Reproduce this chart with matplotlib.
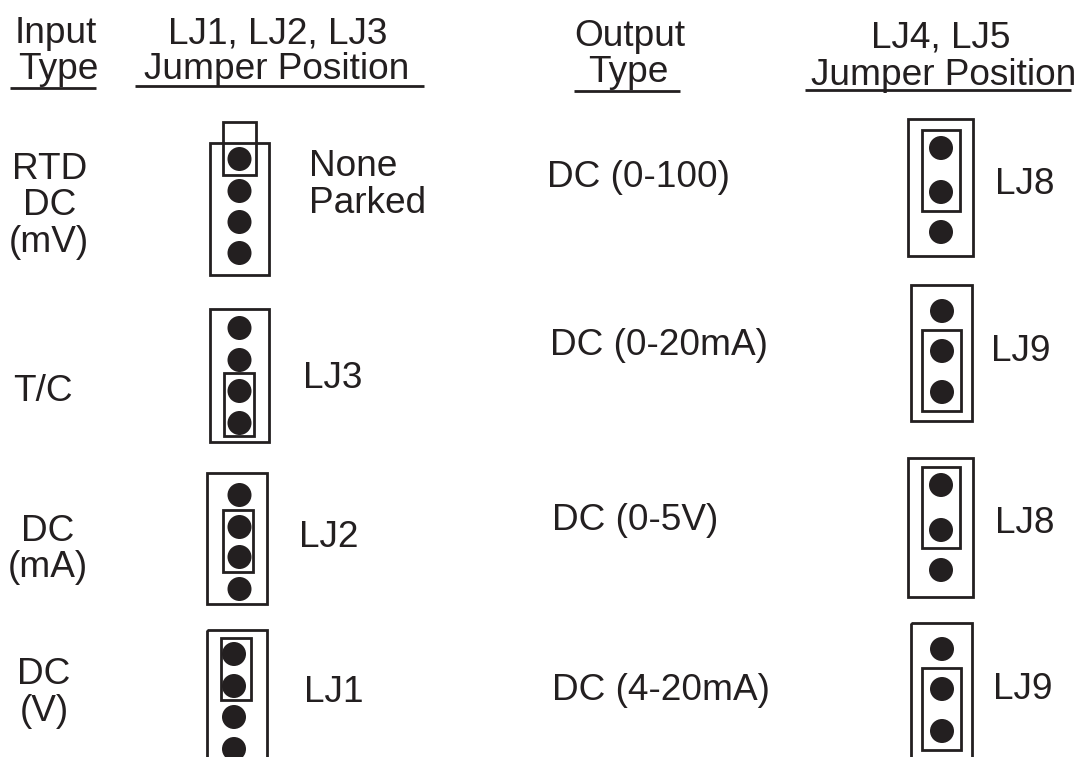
import matplotlib
matplotlib.use('Agg')
import matplotlib.pyplot as plt
from matplotlib.patches import Rectangle, Circle

plt.rcParams['font.family'] = ['Liberation Sans', 'DejaVu Sans']

ink = '#231f20'
font_px = 37

# text: string, x, baseline y, horizontal alignment
headers = [('Input', 56, 43, 'center'), ('Type', 58, 79, 'center'),
           ('LJ1, LJ2, LJ3', 278, 43, 'center'), ('Jumper Position', 277, 79, 'center'),
           ('Output', 630, 46, 'center'), ('Type', 628, 82, 'center'),
           ('LJ4, LJ5', 941, 48, 'center'), ('Jumper Position', 944, 85, 'center')]
input_labels = [('RTD', 50, 179, 'center'), ('DC', 50, 215, 'center'), ('(mV)', 49, 252, 'center'),
                ('T/C', 13, 401, 'left'),
                ('DC', 48, 541, 'center'), ('(mA)', 48, 577, 'center'),
                ('DC', 44, 684, 'center'), ('(V)', 44, 721, 'center')]
output_labels = [('DC (0-100)', 547, 187, 'left'), ('DC (0-20mA)', 550, 355, 'left'),
                 ('DC (0-5V)', 552, 530, 'left'), ('DC (4-20mA)', 552, 700, 'left')]
jumper_labels = [('None', 309, 176, 'left'), ('Parked', 309, 213, 'left'),
                 ('LJ3', 303, 388, 'left'), ('LJ2', 299, 547, 'left'), ('LJ1', 304, 702, 'left'),
                 ('LJ8', 995, 194, 'left'), ('LJ9', 991, 361, 'left'),
                 ('LJ8', 995, 533, 'left'), ('LJ9', 993, 699, 'left')]

# header underlines: x0, x1, y
underlines = [(10, 96, 88), (135, 424, 86), (574, 680, 91), (805, 1071, 90)]

# connector outlines and jumpers: x0, x1, y0, y1
boxes = [(210, 269, 143, 275), (210, 269, 309, 442), (207, 267, 473, 604), (207, 267, 630, 790),
         (908, 973, 119, 256), (911, 972, 285, 421), (908, 973, 458, 597), (911, 972, 623, 790)]
jumpers = [(223, 256, 122, 175), (224, 254, 373, 436), (223, 253, 510, 572), (221, 251, 638, 700),
           (922, 960, 130, 211), (922, 961, 330, 411), (922, 960, 467, 548), (922, 961, 668, 750)]

# pins: x, then the y of each pin
pins = [(239.5, [159, 191, 222, 253]), (239.5, [328, 360, 391, 423]),
        (239.5, [495, 527, 557, 589]), (234, [654, 686, 717, 749]),
        (941, [148, 192, 232]), (942, [311, 351, 392]),
        (941, [485, 530, 570]), (942, [649, 689, 731])]

fig = plt.figure(figsize=(10.81, 7.57), dpi=100)
ax = fig.add_axes([0, 0, 1, 1])
ax.set_xlim(0, 1081)
ax.set_ylim(757, 0)
ax.axis('off')

for label, x, y, ha in headers + input_labels + output_labels + jumper_labels:
    ax.text(x, y, label, ha=ha, va='baseline', color=ink, fontsize=font_px * 72 / 100)

for x0, x1, y in underlines:
    ax.plot([x0, x1], [y, y], color=ink, lw=2, solid_capstyle='butt')

for x0, x1, y0, y1 in boxes + jumpers:
    ax.add_patch(Rectangle((x0, y0), x1 - x0, y1 - y0, fill=False, edgecolor=ink, lw=2))

for x, ys in pins:
    for y in ys:
        ax.add_patch(Circle((x, y), 12, facecolor=ink, edgecolor='none'))

fig.savefig('out.png', dpi=100)
